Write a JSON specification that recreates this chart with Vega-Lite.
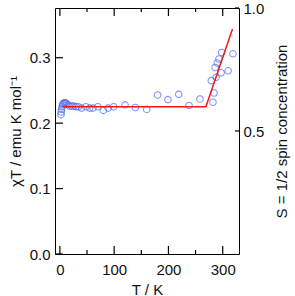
{
  "$schema": "https://vega.github.io/schema/vega-lite/v6.json",
  "autosize": {"type": "none"},
  "padding": {"left": 55, "top": 8, "right": 56, "bottom": 42},
  "width": 184,
  "height": 246,
  "config": {
    "view": {"stroke": null},
    "font": "Liberation Sans",
    "axis": {
      "grid": false,
      "domainColor": "#000000",
      "labelColor": "#111111",
      "titleColor": "#111111",
      "labelFont": "Liberation Sans",
      "titleFont": "Liberation Sans",
      "labelFontSize": 15,
      "titleFontSize": 15,
      "titleFontWeight": "normal",
      "domainWidth": 1
    }
  },
  "datasets": {
    "chi": [
      {"T": 2, "chiT": 0.213},
      {"T": 2.5, "chiT": 0.217},
      {"T": 3, "chiT": 0.221},
      {"T": 4, "chiT": 0.225},
      {"T": 5, "chiT": 0.228},
      {"T": 6, "chiT": 0.230},
      {"T": 8, "chiT": 0.231},
      {"T": 10, "chiT": 0.231},
      {"T": 12, "chiT": 0.230},
      {"T": 15, "chiT": 0.228},
      {"T": 18, "chiT": 0.226},
      {"T": 22, "chiT": 0.226},
      {"T": 26, "chiT": 0.226},
      {"T": 30, "chiT": 0.225},
      {"T": 34, "chiT": 0.225},
      {"T": 40, "chiT": 0.223},
      {"T": 48, "chiT": 0.225},
      {"T": 55, "chiT": 0.223},
      {"T": 61, "chiT": 0.223},
      {"T": 70, "chiT": 0.225},
      {"T": 80, "chiT": 0.2195},
      {"T": 89, "chiT": 0.223},
      {"T": 99, "chiT": 0.225},
      {"T": 120, "chiT": 0.228},
      {"T": 139, "chiT": 0.224},
      {"T": 160, "chiT": 0.221},
      {"T": 180, "chiT": 0.243},
      {"T": 199, "chiT": 0.236},
      {"T": 219, "chiT": 0.244},
      {"T": 238, "chiT": 0.227},
      {"T": 258, "chiT": 0.237},
      {"T": 282, "chiT": 0.232},
      {"T": 284, "chiT": 0.246},
      {"T": 279, "chiT": 0.265},
      {"T": 288, "chiT": 0.270},
      {"T": 286, "chiT": 0.285},
      {"T": 290, "chiT": 0.292},
      {"T": 293, "chiT": 0.298},
      {"T": 298, "chiT": 0.308},
      {"T": 297, "chiT": 0.277},
      {"T": 310, "chiT": 0.280},
      {"T": 319, "chiT": 0.306}
    ],
    "fit": [
      {"T": 5, "chiT": 0.225},
      {"T": 269, "chiT": 0.225},
      {"T": 318, "chiT": 0.344}
    ],
    "spin": [
      {"T": 0, "s": 0.5},
      {"T": 0, "s": 1.0}
    ],
    "xmajor": [{"T": 0}, {"T": 100}, {"T": 200}, {"T": 300}],
    "xminor": [{"T": 50}, {"T": 150}, {"T": 250}],
    "ymajor": [{"v": 0}, {"v": 0.1}, {"v": 0.2}, {"v": 0.3}]
  },
  "layer": [
    {
      "data": {"name": "chi"},
      "mark": {"type": "point", "shape": "circle", "filled": false, "color": "#4a68f0", "size": 42, "strokeWidth": 1.1},
      "encoding": {
        "x": {"field": "T", "type": "quantitative", "scale": {"domain": [-9, 330], "nice": false, "zero": false},
          "axis": {"orient": "bottom", "values": [0, 100, 200, 300], "ticks": false, "labelPadding": 8, "title": "T / K", "titlePadding": 5}},
        "y": {"field": "chiT", "type": "quantitative", "scale": {"domain": [0, 0.376], "nice": false},
          "axis": {"orient": "left", "values": [0, 0.1, 0.2, 0.3], "format": ".1f", "ticks": false, "labelPadding": 5, "title": "χT / emu K mol⁻¹", "titlePadding": 6}}
      }
    },
    {
      "data": {"name": "fit"},
      "mark": {"type": "line", "color": "#f01818", "strokeWidth": 1.5},
      "encoding": {
        "x": {"field": "T", "type": "quantitative", "scale": {"domain": [-9, 330], "nice": false, "zero": false},
          "axis": {"orient": "top", "values": [0, 100, 200, 300], "ticks": false, "labels": false, "title": null}},
        "y": {"field": "chiT", "type": "quantitative", "scale": {"domain": [0, 0.376], "nice": false}, "axis": null}
      }
    },
    {
      "data": {"name": "spin"},
      "mark": {"type": "point", "opacity": 0},
      "encoding": {
        "x": {"field": "T", "type": "quantitative", "scale": {"domain": [-9, 330], "nice": false, "zero": false}, "axis": null},
        "y": {"field": "s", "type": "quantitative", "scale": {"domain": [0, 1], "nice": false},
          "axis": {"orient": "right", "values": [0.5, 1.0], "format": ".1f", "ticks": false, "labelPadding": 4, "title": "S = 1/2 spin concentration", "titleAngle": 270, "titlePadding": 26}}
      }
    },
    {
      "data": {"name": "xmajor"},
      "mark": {"type": "rule", "color": "#000000", "strokeWidth": 1.2},
      "encoding": {
        "x": {"field": "T", "type": "quantitative", "scale": {"domain": [-9, 330], "nice": false, "zero": false}, "axis": null},
        "y": {"datum": 0, "type": "quantitative", "scale": {"domain": [0, 0.376], "nice": false}, "axis": null},
        "y2": {"datum": 0.0122}
      }
    },
    {
      "data": {"name": "xmajor"},
      "mark": {"type": "rule", "color": "#000000", "strokeWidth": 1.2},
      "encoding": {
        "x": {"field": "T", "type": "quantitative", "scale": {"domain": [-9, 330], "nice": false, "zero": false}, "axis": null},
        "y": {"datum": 0.376, "type": "quantitative", "scale": {"domain": [0, 0.376], "nice": false}, "axis": null},
        "y2": {"datum": 0.3638}
      }
    },
    {
      "data": {"name": "xminor"},
      "mark": {"type": "rule", "color": "#000000", "strokeWidth": 1.2},
      "encoding": {
        "x": {"field": "T", "type": "quantitative", "scale": {"domain": [-9, 330], "nice": false, "zero": false}, "axis": null},
        "y": {"datum": 0, "type": "quantitative", "scale": {"domain": [0, 0.376], "nice": false}, "axis": null},
        "y2": {"datum": 0.0061}
      }
    },
    {
      "data": {"name": "xminor"},
      "mark": {"type": "rule", "color": "#000000", "strokeWidth": 1.2},
      "encoding": {
        "x": {"field": "T", "type": "quantitative", "scale": {"domain": [-9, 330], "nice": false, "zero": false}, "axis": null},
        "y": {"datum": 0.376, "type": "quantitative", "scale": {"domain": [0, 0.376], "nice": false}, "axis": null},
        "y2": {"datum": 0.3699}
      }
    },
    {
      "data": {"name": "ymajor"},
      "mark": {"type": "rule", "color": "#000000", "strokeWidth": 1.2},
      "encoding": {
        "x": {"datum": -9, "type": "quantitative", "scale": {"domain": [-9, 330], "nice": false, "zero": false}, "axis": null},
        "x2": {"datum": 5.7},
        "y": {"field": "v", "type": "quantitative", "scale": {"domain": [0, 0.376], "nice": false}, "axis": null}
      }
    },
    {
      "data": {"name": "spin"},
      "mark": {"type": "rule", "color": "#000000", "strokeWidth": 1.2},
      "encoding": {
        "x": {"datum": 330, "type": "quantitative", "scale": {"domain": [-9, 330], "nice": false, "zero": false}, "axis": null},
        "x2": {"datum": 322.6},
        "y": {"field": "s", "type": "quantitative", "scale": {"domain": [0, 1], "nice": false}, "axis": null}
      }
    }
  ],
  "resolve": {"scale": {"y": "independent"}, "axis": {"x": "independent", "y": "independent"}}
}
